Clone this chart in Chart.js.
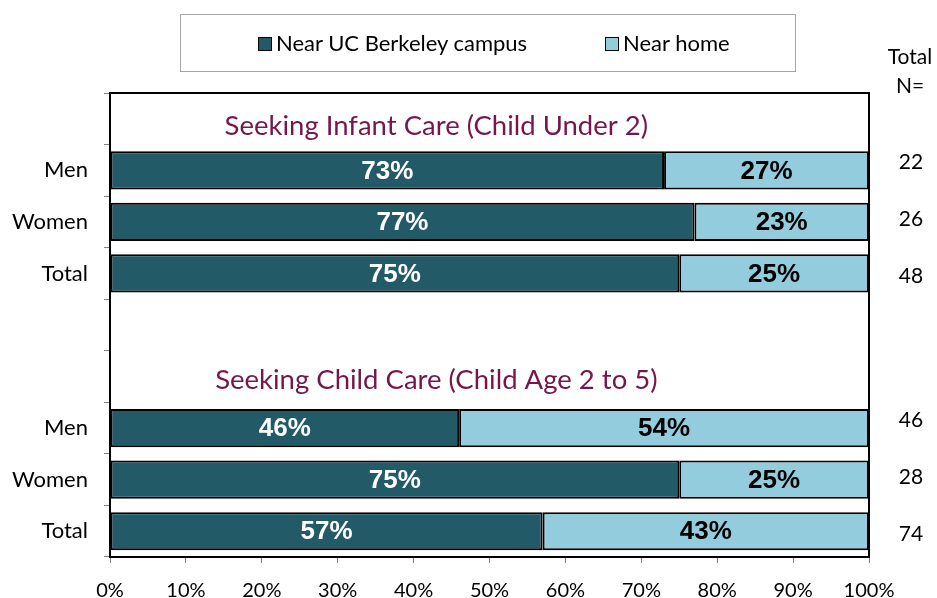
<!DOCTYPE html>
<html>
<head>
<meta charset="utf-8">
<script src="https://cdn.jsdelivr.net/npm/chart.js@4"></script>
<style>
  body { margin: 0; background: #fff; }
  #wrap { position: relative; width: 937px; height: 598px; }
  #legendBox {
    position: absolute; left: 180px; top: 14px; width: 616px; height: 58px;
    border: 1px solid #a6a6a6; box-sizing: border-box;
    font-family: Lato, sans-serif; font-size: 22px; color: #000;
  }
  .item { position: absolute; top: 14px; white-space: nowrap; }
  .sw { display: inline-block; width: 12px; height: 12px; border: 1px solid #000; margin-right: 4px; vertical-align: 0px; }
</style>
</head>
<body>
<div id="wrap">
  <canvas id="chart" width="937" height="598"></canvas>
  <div id="legendBox">
    <span class="item" style="left:77px"><span class="sw" style="background:#225a67"></span>Near UC Berkeley campus</span>
    <span class="item" style="left:424px"><span class="sw" style="background:#93cddd"></span>Near home</span>
  </div>
</div>
<script>
// rows, blank ones hold the group titles
const rowLabels = ['', 'Men', 'Women', 'Total', '', '', 'Men', 'Women', 'Total'];
const nearCampus = [null, 73, 77, 75, null, null, 46, 75, 57];
const nearHome = [null, 27, 23, 25, null, null, 54, 25, 43];
const totalN = ['', '22', '26', '48', '', '', '46', '28', '74'];
const groupTitles = [
    { row: 0, text: 'Seeking Infant Care (Child Under 2)' },
    { row: 5, text: 'Seeking Child Care (Child Age 2 to 5)' }
];

const overlay = {
    id: 'overlay',
    afterDatasetsDraw(chart) {
        const ctx = chart.ctx;
        const area = chart.chartArea;
        const x = chart.scales.x, y = chart.scales.y;
        ctx.save();
        // frame round the plot
        ctx.strokeStyle = '#000';
        ctx.lineWidth = 2;
        ctx.strokeRect(area.left, area.top, area.right - area.left, area.bottom - area.top);

        // percent labels inside the bars
        ctx.font = 'bold 26px "Liberation Sans", Arial, sans-serif';
        ctx.textAlign = 'center';
        ctx.textBaseline = 'middle';
        chart.data.datasets.forEach((ds, i) => {
            chart.getDatasetMeta(i).data.forEach((bar, j) => {
                const v = ds.data[j];
                if (v == null) return;
                ctx.fillStyle = i === 0 ? '#fff' : '#000';
                ctx.fillText(v + '%', (bar.x + bar.base) / 2, bar.y + 1);
            });
        });

        // group titles
        ctx.font = '27.5px Lato, sans-serif';
        ctx.fillStyle = '#76174b';
        groupTitles.forEach((t, k) => {
            ctx.fillText(t.text, x.getPixelForValue(43), y.getPixelForValue(t.row) + (k === 0 ? 7 : 4));
        });

        // N column, a little more spread than the bars
        ctx.font = '21px Lato, sans-serif';
        ctx.fillStyle = '#000';
        ctx.fillText('Total', 910, 57);
        ctx.fillText('N=', 910, 86);
        totalN.forEach((n, j) => {
            if (!n) return;
            const k = (j - 1) % 5; // 0,1,2 inside a group
            ctx.fillText(n, 911, y.getPixelForValue(j) - 8 + k * 5.5);
        });
        ctx.restore();
    }
};

new Chart(document.getElementById('chart'), {
    type: 'bar',
    data: {
        labels: rowLabels,
        datasets: [
            { label: 'Near UC Berkeley campus', data: nearCampus, backgroundColor: '#225a67',
              borderColor: '#000', borderWidth: 2, borderSkipped: false,
              barPercentage: 0.74, categoryPercentage: 1 },
            { label: 'Near home', data: nearHome, backgroundColor: '#93cddd',
              borderColor: '#000', borderWidth: 2, borderSkipped: false,
              barPercentage: 0.74, categoryPercentage: 1 }
        ]
    },
    options: {
        indexAxis: 'y',
        responsive: false,
        animation: false,
        layout: { padding: { left: 0, right: 68, top: 93, bottom: 0 } },
        plugins: { legend: { display: false }, tooltip: { enabled: false } },
        scales: {
            x: {
                stacked: true, min: 0, max: 100,
                ticks: { stepSize: 10, callback: v => v + '%', color: '#000', padding: 16,
                         font: { family: 'Lato', size: 20 } },
                grid: { drawOnChartArea: false, tickLength: 6, color: '#808080' },
                border: { display: false },
                afterFit: s => { s.height = 41; }
            },
            y: {
                stacked: true,
                ticks: { color: '#000', padding: 16, font: { family: 'Lato', size: 22 } },
                grid: { drawOnChartArea: false, offset: true, tickLength: 6, color: '#808080' },
                border: { display: false },
                afterFit: s => { s.width = 110; }
            }
        }
    },
    plugins: [overlay]
});
</script>
</body>
</html>
